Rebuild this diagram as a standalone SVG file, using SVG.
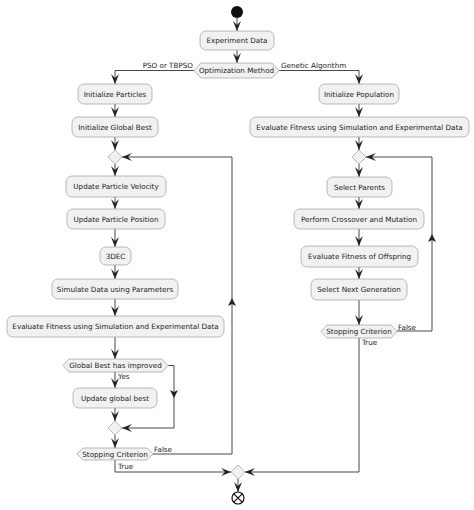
<svg xmlns="http://www.w3.org/2000/svg" width="474" height="510" viewBox="0 0 474 510">
<defs>
<style>
.box{fill:#F1F1F1;stroke:#A8A8A8;stroke-width:0.8}
.t{font-family:"DejaVu Sans",sans-serif;font-size:7.2px;fill:#222;text-anchor:middle}
.lb{font-family:"DejaVu Sans",sans-serif;font-size:7.2px;fill:#222}
.ln{fill:none;stroke:#333;stroke-width:0.9}
.ah{fill:#222;stroke:none}
</style>
<marker id="arr" viewBox="0 0 10 8" refX="10" refY="4" markerWidth="10" markerHeight="8" markerUnits="userSpaceOnUse" orient="auto">
<path d="M0,0 L10,4 L0,8 L4,4 Z" fill="#222"/>
</marker>
</defs>
<rect width="474" height="510" fill="#fff"/>

<g id="connectors">
<path class="ln" d="M237,18 V31" marker-end="url(#arr)"/>
<path class="ln" d="M237,50 V63" marker-end="url(#arr)"/>
<path class="ln" d="M194,70.5 H115 V84" marker-end="url(#arr)"/>
<path class="ln" d="M279,70.5 H359 V84" marker-end="url(#arr)"/>
<path class="ln" d="M115,104 V117" marker-end="url(#arr)"/>
<path class="ln" d="M115,137 V150" marker-end="url(#arr)"/>
<path class="ln" d="M115,164 V176" marker-end="url(#arr)"/>
<path class="ln" d="M115,197 V209" marker-end="url(#arr)"/>
<path class="ln" d="M115,229 V247" marker-end="url(#arr)"/>
<path class="ln" d="M115,265 V279" marker-end="url(#arr)"/>
<path class="ln" d="M115,299 V316" marker-end="url(#arr)"/>
<path class="ln" d="M115,337 V359" marker-end="url(#arr)"/>
<path class="ln" d="M115,372 V388" marker-end="url(#arr)"/>
<path class="ln" d="M115,408 V421" marker-end="url(#arr)"/>
<path class="ln" d="M168,365.5 H174 V428 H122" marker-end="url(#arr)"/>
<path class="ah" d="M170,390 L174,398 L178,390 L174,392 Z"/>
<path class="ln" d="M115,435 V448" marker-end="url(#arr)"/>
<path class="ln" d="M153,454 H232 V157 H122" marker-end="url(#arr)"/>
<path class="ah" d="M228,306 L232,298 L236,306 L232,304 Z"/>
<path class="ln" d="M115,460 V472 H231" marker-end="url(#arr)"/>
<path class="ln" d="M359,104 V117" marker-end="url(#arr)"/>
<path class="ln" d="M359,137 V150" marker-end="url(#arr)"/>
<path class="ln" d="M359,164 V177" marker-end="url(#arr)"/>
<path class="ln" d="M359,197 V209" marker-end="url(#arr)"/>
<path class="ln" d="M359,229 V246" marker-end="url(#arr)"/>
<path class="ln" d="M359,267 V279" marker-end="url(#arr)"/>
<path class="ln" d="M359,300 V325" marker-end="url(#arr)"/>
<path class="ln" d="M397,331 H432 V157 H366" marker-end="url(#arr)"/>
<path class="ah" d="M428,242 L432,234 L436,242 L432,240 Z"/>
<path class="ln" d="M359,338 V472 H245" marker-end="url(#arr)"/>
<path class="ln" d="M238,479 V492" marker-end="url(#arr)"/>
</g>

<g id="start"><circle cx="237" cy="12" r="6" fill="#111"/></g>

<g id="n_experiment"><rect class="box" x="200" y="31" width="74" height="19" rx="6"/><text class="t" x="237" y="43">Experiment Data</text></g>

<g id="d_method"><path class="box" d="M201,63 H272 L279,70.5 L272,78 H201 L194,70.5 Z"/><text class="t" x="236.5" y="73">Optimization Method</text></g>
<g id="labels_method">
<text class="lb" x="193" y="68" text-anchor="end">PSO or TBPSO</text>
<text class="lb" x="281" y="68">Genetic Algorithm</text>
</g>

<g id="n_initparticles"><rect class="box" x="78" y="84" width="74" height="20" rx="6"/><text class="t" x="115" y="96.5">Initialize Particles</text></g>
<g id="n_initgbest"><rect class="box" x="72" y="117" width="86" height="20" rx="6"/><text class="t" x="115" y="129.5">Initialize Global Best</text></g>
<g id="m_left1"><path class="box" d="M115,150 L122,157 L115,164 L108,157 Z"/></g>
<g id="n_velocity"><rect class="box" x="66" y="176" width="100" height="21" rx="6"/><text class="t" x="116" y="189">Update Particle Velocity</text></g>
<g id="n_position"><rect class="box" x="67" y="209" width="98" height="20" rx="6"/><text class="t" x="116" y="221.5">Update Particle Position</text></g>
<g id="n_3dec"><rect class="box" x="100" y="247" width="31" height="18" rx="6"/><text class="t" x="115.5" y="258.5">3DEC</text></g>
<g id="n_simulate"><rect class="box" x="52" y="279" width="126" height="20" rx="6"/><text class="t" x="115" y="291.5">Simulate Data using Parameters</text></g>
<g id="n_evalleft"><rect class="box" x="7" y="316" width="217" height="21" rx="6"/><text class="t" x="115.5" y="329">Evaluate Fitness using Simulation and Experimental Data</text></g>
<g id="d_improved"><path class="box" d="M69,359 H162 L168,365.5 L162,372 H69 L63,365.5 Z"/><text class="t" x="115.5" y="368">Global Best has improved</text></g>
<text class="lb" x="118" y="379">Yes</text>
<g id="n_updategbest"><rect class="box" x="73" y="388" width="84" height="20" rx="6"/><text class="t" x="115" y="400.5">Update global best</text></g>
<g id="m_left2"><path class="box" d="M115,421 L122,428 L115,435 L108,428 Z"/></g>
<g id="d_stopleft"><path class="box" d="M83,448 H147 L153,454 L147,460 H83 L77,454 Z"/><text class="t" x="115" y="456.5">Stopping Criterion</text></g>
<text class="lb" x="154" y="452">False</text>
<text class="lb" x="118" y="469">True</text>

<g id="n_initpop"><rect class="box" x="319" y="84" width="80" height="20" rx="6"/><text class="t" x="359" y="96.5">Initialize Population</text></g>
<g id="n_evalright"><rect class="box" x="250" y="117" width="219" height="20" rx="6"/><text class="t" x="359.5" y="129.5">Evaluate Fitness using Simulation and Experimental Data</text></g>
<g id="m_right1"><path class="box" d="M359,150 L366,157 L359,164 L352,157 Z"/></g>
<g id="n_parents"><rect class="box" x="327" y="177" width="65" height="20" rx="6"/><text class="t" x="359.5" y="189.5">Select Parents</text></g>
<g id="n_crossover"><rect class="box" x="294" y="209" width="130" height="20" rx="6"/><text class="t" x="359" y="221.5">Perform Crossover and Mutation</text></g>
<g id="n_offspring"><rect class="box" x="301" y="246" width="117" height="21" rx="6"/><text class="t" x="359.5" y="259">Evaluate Fitness of Offspring</text></g>
<g id="n_nextgen"><rect class="box" x="311" y="279" width="96" height="21" rx="6"/><text class="t" x="359" y="292">Select Next Generation</text></g>
<g id="d_stopright"><path class="box" d="M327,325 H391 L397,331.5 L391,338 H327 L321,331.5 Z"/><text class="t" x="359" y="334">Stopping Criterion</text></g>
<text class="lb" x="398" y="330">False</text>
<text class="lb" x="362" y="345">True</text>

<g id="m_final"><path class="box" d="M238,465 L245,472 L238,479 L231,472 Z"/></g>
<g id="end"><circle cx="238" cy="498" r="6" fill="#fff" stroke="#111" stroke-width="1.2"/><path d="M233.8,493.8 L242.2,502.2 M242.2,493.8 L233.8,502.2" stroke="#111" stroke-width="1.2"/></g>
</svg>
